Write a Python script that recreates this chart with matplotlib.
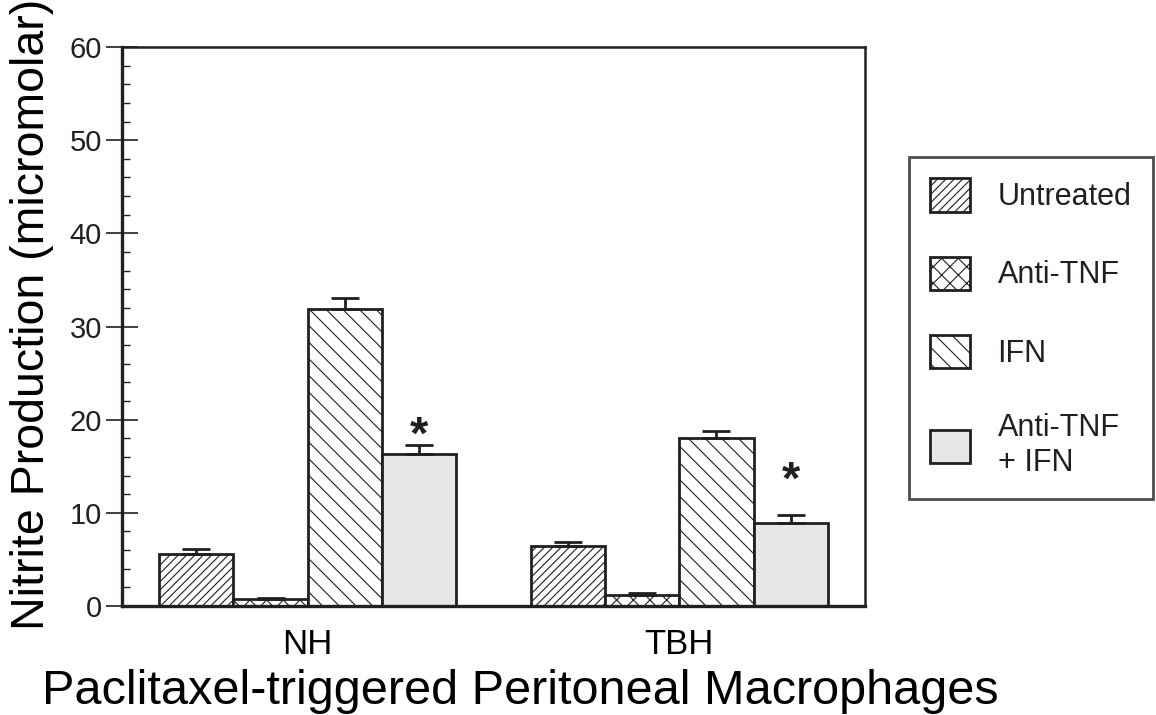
import numpy as np
import matplotlib.pyplot as plt
from matplotlib.patches import Patch

plt.rcParams['font.family'] = ['Liberation Sans', 'DejaVu Sans']
plt.rcParams['hatch.linewidth'] = 0.8
plt.rcParams['text.color'] = '#231f20'

# data
groups = ['NH', 'TBH']
treatments = ['Untreated', 'Anti-TNF', 'IFN', 'Anti-TNF\n+ IFN']
values = {
    'Untreated': [5.55, 6.45],
    'Anti-TNF': [0.75, 1.15],
    'IFN': [31.9, 18.0],
    'Anti-TNF\n+ IFN': [16.3, 8.95],
}
errors = {
    'Untreated': [0.55, 0.4],
    'Anti-TNF': [0.15, 0.2],
    'IFN': [1.15, 0.8],
    'Anti-TNF\n+ IFN': [1.0, 0.8],
}
star_y = [18.2, 13.3]  # significance marks on the combined treatment

hatches = ['////', 'xx', '\\\\', '']
fills = ['white', 'white', 'white', '#e6e7e8']
ink = '#231f20'

fig = plt.figure(figsize=(11.56, 7.15), dpi=100)
ax = fig.add_axes([122 / 1156, 1 - 606 / 715, (865 - 122) / 1156, (606 - 47) / 715])

group_x = np.array([0, 5])
offsets = [-1.5, -0.5, 0.5, 1.5]
for i, t in enumerate(treatments):
    x = group_x + offsets[i]
    ax.bar(x, values[t], width=1.0, color=fills[i], edgecolor=ink,
           linewidth=2.0, hatch=hatches[i], zorder=2)
    ax.errorbar(x, values[t], yerr=[np.zeros(2), errors[t]], fmt='none',
                ecolor=ink, elinewidth=2.0, capsize=10, capthick=2.0, zorder=3)

for j, sy in enumerate(star_y):
    ax.text(group_x[j] + offsets[-1], sy, '*', ha='center', va='center',
            fontsize=34, fontweight='bold')

ax.set_xlim(-2.5, 7.5)
ax.set_ylim(0, 60)
ax.set_xticks(group_x)
ax.set_xticklabels(groups, fontsize=25)
ax.set_yticks(np.arange(0, 61, 10))
ax.set_yticks(np.arange(0, 61, 2), minor=True)
ax.tick_params(axis='y', which='major', direction='inout', length=23, width=1.2,
               labelsize=21, pad=3, colors=ink)
ax.tick_params(axis='y', which='minor', direction='in', length=6, width=1.0, colors=ink)
ax.tick_params(axis='x', length=0, pad=16)

for side in ['left', 'bottom']:
    ax.spines[side].set_linewidth(2.4)
for side in ['top', 'right']:
    ax.spines[side].set_linewidth(1.8)
for s in ax.spines.values():
    s.set_color(ink)
    s.set_zorder(4)

ax.set_ylabel('Nitrite Production (micromolar)', fontsize=33.5)
ax.set_xlabel('Paclitaxel-triggered Peritoneal Macrophages', fontsize=35)
ax.yaxis.set_label_coords(-0.092, 0.522)
ax.xaxis.set_label_coords(0.536, -0.112)

handles = [Patch(facecolor=fills[i], edgecolor=ink, linewidth=2.0, hatch=hatches[i])
           for i in range(4)]
leg = fig.legend(handles, treatments, loc='upper left',
                 bbox_to_anchor=(909 / 1156, 1 - 157 / 715), borderaxespad=0,
                 fontsize=22, frameon=True, fancybox=False, handlelength=1.3,
                 handleheight=1.3, handletextpad=0.9, labelspacing=1.45,
                 borderpad=0.7)
leg.get_frame().set_edgecolor(ink)
leg.get_frame().set_linewidth(2.0)

fig.savefig('out.png', dpi=100)
